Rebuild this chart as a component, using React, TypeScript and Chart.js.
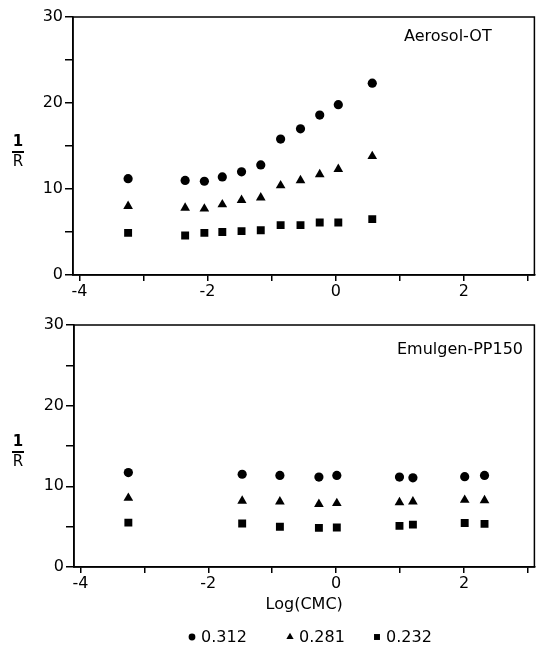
import React, { useEffect, useRef } from 'react';
import { Chart, registerables } from 'chart.js';
import { drawPoint } from 'chart.js/helpers';

Chart.register(...registerables);

// ---- data ----
const seriesLabels = ['0.312', '0.281', '0.232'];
const pointStyles = ['circle', 'triangle', 'rect'];

const aotX = [-3.24, -2.35, -2.05, -1.77, -1.47, -1.17, -0.86, -0.55, -0.25, 0.04, 0.57];
const aot312 = [11.2, 11.0, 10.9, 11.4, 12.0, 12.8, 15.8, 17.0, 18.6, 19.8, 22.3];
const aot281 = [8.0, 7.8, 7.7, 8.2, 8.7, 9.0, 10.4, 11.0, 11.7, 12.3, 13.8];
const aot232 = [4.9, 4.6, 4.9, 5.0, 5.1, 5.2, 5.8, 5.8, 6.1, 6.1, 6.5];

const emuX = [-3.25, -1.47, -0.88, -0.27, 0.01, 0.99, 1.2, 2.01, 2.32];
const emu312 = [11.7, 11.5, 11.35, 11.15, 11.35, 11.15, 11.05, 11.2, 11.35];
const emu281 = [8.55, 8.2, 8.1, 7.8, 7.9, 8.0, 8.1, 8.3, 8.25];
const emu232 = [5.5, 5.4, 5.0, 4.85, 4.9, 5.1, 5.25, 5.45, 5.35];

const xTicks = [-4, -3, -2, -1, 0, 1, 2, 3];
const xTickLabels = ['-4', '', '-2', '', '0', '', '2', ''];
const yTicks = [0, 5, 10, 15, 20, 25, 30];
const yTickLabels = ['0', '', '10', '', '20', '', '30'];

const panelNames = ['Aerosol-OT', 'Emulgen-PP150'];
const xAxisTitle = 'Log(CMC)';
const yAxisNumerator = '1';
const yAxisDenominator = 'R';

// ---- styling ----
const FONT = '"DejaVu Sans", "Liberation Sans", Arial, sans-serif';
const INK = '#000';
const markerRadius: Record<string, number> = { circle: 4.6, triangle: 5.6, rect: 5.6 };
const legendRadius: Record<string, number> = { circle: 3.4, triangle: 4.2, rect: 4.2 };

const boxPlugin = {
  id: 'box',
  afterDraw(chart: any) {
    const { ctx, chartArea: a } = chart;
    ctx.save();
    ctx.strokeStyle = INK;
    ctx.lineWidth = 1.5;
    ctx.strokeRect(a.left, a.top, a.right - a.left, a.bottom - a.top);
    ctx.restore();
  },
};

const fractionPlugin = {
  id: 'fraction',
  afterDraw(chart: any) {
    const { ctx, chartArea: a } = chart;
    const cx = 18;
    const cy = (a.top + a.bottom) / 2 + 6;
    ctx.save();
    ctx.fillStyle = INK;
    ctx.strokeStyle = INK;
    ctx.textAlign = 'center';
    ctx.textBaseline = 'middle';
    ctx.font = `bold 15px ${FONT}`;
    ctx.fillText(yAxisNumerator, cx, cy - 10);
    ctx.lineWidth = 2;
    ctx.beginPath();
    ctx.moveTo(cx - 6, cy);
    ctx.lineTo(cx + 6, cy);
    ctx.stroke();
    ctx.font = `15px ${FONT}`;
    ctx.fillText(yAxisDenominator, cx, cy + 10);
    ctx.restore();
  },
};

function panelLabelPlugin(text: string, dx: number, dy: number) {
  return {
    id: 'panelLabel',
    afterDraw(chart: any) {
      const { ctx, chartArea: a } = chart;
      ctx.save();
      ctx.fillStyle = INK;
      ctx.font = `16px ${FONT}`;
      ctx.textAlign = 'left';
      ctx.textBaseline = 'middle';
      ctx.fillText(text, a.left + dx, a.top + dy);
      ctx.restore();
    },
  };
}

const legendPlugin = {
  id: 'customLegend',
  afterDraw(chart: any) {
    const { ctx } = chart;
    const y = chart.height - 9;
    const centers = [192, 290, 377];
    ctx.save();
    ctx.fillStyle = INK;
    ctx.strokeStyle = INK;
    ctx.font = `16px ${FONT}`;
    ctx.textAlign = 'left';
    ctx.textBaseline = 'middle';
    chart.data.datasets.forEach((ds: any, i: number) => {
      const style = ds.pointStyle;
      drawPoint(ctx, { pointStyle: style, radius: legendRadius[style], rotation: 0, borderWidth: 0 }, centers[i], y);
      ctx.fillStyle = INK;
      ctx.fillText(ds.label, centers[i] + 9, y + 1);
    });
    ctx.restore();
  },
};

function makeDatasets(xs: number[], series: number[][]) {
  return series.map((vals, i) => ({
    label: seriesLabels[i],
    data: xs.map((x, j) => ({ x, y: vals[j] })),
    pointStyle: pointStyles[i],
    pointRadius: markerRadius[pointStyles[i]],
    pointHoverRadius: markerRadius[pointStyles[i]],
    backgroundColor: INK,
    borderColor: INK,
    borderWidth: 0,
    showLine: false,
  }));
}

function makeConfig(opts: {
  xs: number[];
  series: number[][];
  yAxisWidth: number;
  xAxisHeight: number;
  padTop: number;
  withTitle: boolean;
  plugins: any[];
}) {
  const tickFont = { family: FONT, size: 16 };
  return {
    type: 'scatter',
    data: { datasets: makeDatasets(opts.xs, opts.series) },
    options: {
      responsive: false,
      animation: false,
      events: [],
      layout: { padding: { top: opts.padTop, right: 2, left: 0, bottom: 0 } },
      plugins: { legend: { display: false }, tooltip: { enabled: false } },
      scales: {
        x: {
          type: 'linear',
          min: -4.1,
          max: 3.1,
          afterBuildTicks: (s: any) => {
            s.ticks = xTicks.map((v) => ({ value: v }));
          },
          afterFit: (s: any) => {
            s.height = opts.xAxisHeight;
          },
          ticks: {
            callback: (_v: any, i: number) => xTickLabels[i] ?? '',
            color: INK,
            font: tickFont,
            padding: 1,
            maxRotation: 0,
            autoSkip: false,
          },
          grid: { drawOnChartArea: false, drawTicks: true, tickLength: 6, color: INK, lineWidth: 1.5 },
          border: { display: true, color: INK, width: 1.5 },
          title: {
            display: opts.withTitle,
            text: xAxisTitle,
            color: INK,
            font: { family: FONT, size: 16 },
            padding: { top: 0, bottom: 32 },
          },
        },
        y: {
          type: 'linear',
          min: 0,
          max: 30,
          afterBuildTicks: (s: any) => {
            s.ticks = yTicks.map((v) => ({ value: v }));
          },
          afterFit: (s: any) => {
            s.width = opts.yAxisWidth;
          },
          ticks: {
            callback: (_v: any, i: number) => yTickLabels[i] ?? '',
            color: INK,
            font: tickFont,
            padding: 2,
            autoSkip: false,
          },
          grid: { drawOnChartArea: false, drawTicks: true, tickLength: 8, color: INK, lineWidth: 1.5 },
          border: { display: true, color: INK, width: 1.5 },
        },
      },
    },
    plugins: opts.plugins,
  };
}

export default function App() {
  const topRef = useRef<HTMLCanvasElement>(null);
  const botRef = useRef<HTMLCanvasElement>(null);

  useEffect(() => {
    const top = new Chart(
      topRef.current!,
      makeConfig({
        xs: aotX,
        series: [aot312, aot281, aot232],
        yAxisWidth: 73,
        xAxisHeight: 25,
        padTop: 17,
        withTitle: false,
        plugins: [boxPlugin, fractionPlugin, panelLabelPlugin(panelNames[0], 331, 20)],
      }) as any
    );
    const bot = new Chart(
      botRef.current!,
      makeConfig({
        xs: emuX,
        series: [emu312, emu281, emu232],
        yAxisWidth: 74,
        xAxisHeight: 79,
        padTop: 25,
        withTitle: true,
        plugins: [boxPlugin, fractionPlugin, panelLabelPlugin(panelNames[1], 323, 25), legendPlugin],
      }) as any
    );
    return () => {
      top.destroy();
      bot.destroy();
    };
  }, []);

  return (
    <div style={{ position: 'absolute', left: 0, top: 0, width: 540, height: 646, background: '#fff' }}>
      <canvas ref={topRef} width={540} height={300} style={{ position: 'absolute', left: 0, top: 0, display: 'block' }} />
      <canvas ref={botRef} width={540} height={346} style={{ position: 'absolute', left: 0, top: 300, display: 'block' }} />
    </div>
  );
}
